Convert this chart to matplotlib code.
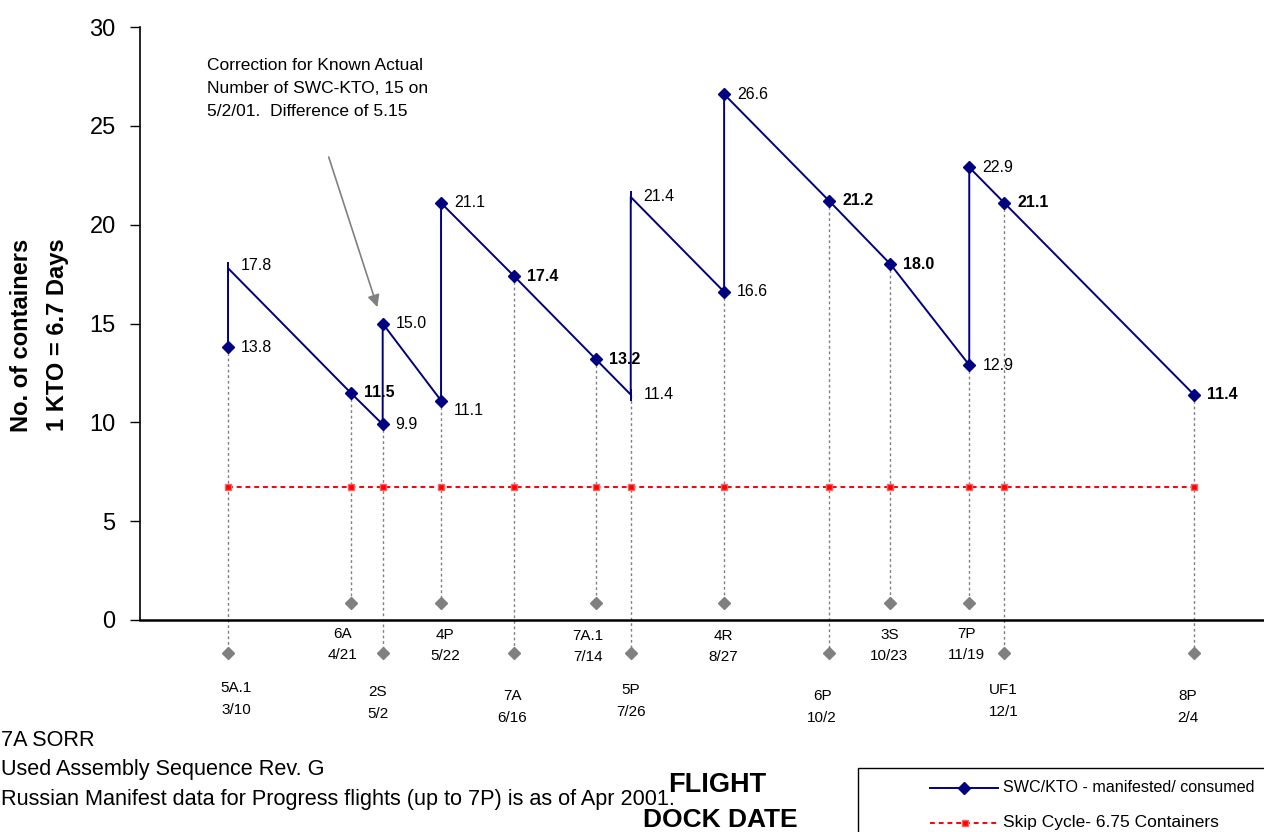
import numpy as np
import pandas as pd
import matplotlib
matplotlib.use("Agg")
import matplotlib.pyplot as plt
import matplotlib.dates as mdates
from matplotlib.lines import Line2D
from matplotlib.patches import Rectangle

plt.rcParams['font.family'] = ['Liberation Sans', 'DejaVu Sans']

# ---- data ---------------------------------------------------------------
flights = ["5A.1", "6A", "2S", "4P", "7A", "7A.1", "5P", "4R", "6P", "3S", "7P", "UF1", "8P"]
dock_dates = ["2001-03-10", "2001-04-21", "2001-05-02", "2001-05-22", "2001-06-16",
              "2001-07-14", "2001-07-26", "2001-08-27", "2001-10-02", "2001-10-23",
              "2001-11-19", "2001-12-01", "2002-02-04"]
dock_labels = ["3/10", "4/21", "5/2", "5/22", "6/16", "7/14", "7/26", "8/27",
               "10/2", "10/23", "11/19", "12/1", "2/4"]
label_tier = ["low", "high", "low", "high", "low", "high", "low", "high",
              "low", "high", "high", "low", "low"]

swc_dates = ["2001-03-10", "2001-03-10", "2001-04-21", "2001-05-02", "2001-05-02",
             "2001-05-22", "2001-05-22", "2001-06-16", "2001-07-14", "2001-07-26",
             "2001-07-26", "2001-08-27", "2001-08-27", "2001-10-02", "2001-10-23",
             "2001-11-19", "2001-11-19", "2001-12-01", "2002-02-04"]
swc_values = [13.8, 17.8, 11.5, 9.9, 15.0, 11.1, 21.1, 17.4, 13.2, 11.4,
              21.4, 16.6, 26.6, 21.2, 18.0, 12.9, 22.9, 21.1, 11.4]
swc_has_marker = [True, False, True, True, True, True, True, True, True, False,
                  False, True, True, True, True, True, True, True, True]
swc_bold_label = [False, False, True, False, False, False, False, True, True, False,
                  False, False, False, True, True, False, False, True, True]

skip_cycle = 6.75

# ---- layout -------------------------------------------------------------
W, H = 1264, 832
tier_y = {"high": 0.85, "low": -1.65}              # gray flight markers (data units)
tier_text_px = {"high": 24.5, "low": 83}           # label centre below axis (px)
label_dx_px = [8, -8, -5, 4, -2, -8, 0, -1, -7, -1, -3, -1, -6]
label_dy_px = [-4, 0, 0, 1, 4, 2, -2, 2, 4, 1, 0, -2, 4]
value_dy_px = [0] * len(swc_values)
value_dy_px[5] = -10
value_dy_px[1] = 3

navy = "#000080"
gray = "#808080"

fig = plt.figure(figsize=(W / 100, H / 100), dpi=100)
ax = fig.add_axes([140 / W, 212 / H, 1 - 140 / W, 593 / H])

flight_x = mdates.date2num(pd.to_datetime(dock_dates))
swc_x = mdates.date2num(pd.to_datetime(swc_dates))
swc_v = np.array(swc_values)
mask = np.array(swc_has_marker)

base = flight_x[0]
ax.set_xlim(base - 30.16, base + 355.0)
ax.set_ylim(0, 30)

# vertical drop lines from the pre-resupply level to each flight marker
for fx, tier in zip(flight_x, label_tier):
    top = swc_v[np.isclose(swc_x, fx)].min()
    ax.plot([fx, fx], [top, tier_y[tier]], color=gray, lw=1.0,
            linestyle=(0, (2, 2)), clip_on=False, zorder=1)
    ax.plot([fx], [tier_y[tier]], marker="D", ms=6, color=gray, clip_on=False, zorder=2)

# skip cycle level
ax.plot(flight_x, [skip_cycle] * len(flight_x), color="red", lw=1.4,
        linestyle=(0, (2.5, 2)), marker="s", ms=4.5, mfc="red", mec="#ff6060",
        zorder=3, label="Skip Cycle- 6.75 Containers")

# SWC/KTO saw-tooth
ax.plot(swc_x, swc_v, color=navy, lw=1.4, zorder=4)
ax.plot(swc_x[mask], swc_v[mask], linestyle="none", marker="D", ms=6.5,
        color=navy, zorder=5)
ax.plot(swc_x[~mask], swc_v[~mask], linestyle="none", marker="|", ms=9,
        mew=1.4, color=navy, zorder=5)

for x, v, bold, dy in zip(swc_x, swc_v, swc_bold_label, value_dy_px):
    ax.annotate(f"{v:.1f}", xy=(x, v), xytext=(13, dy), textcoords="offset pixels",
                ha="left", va="center", fontsize=11.5,
                fontweight="bold" if bold else "normal", zorder=6)

# flight names and dock dates below the axis
for fx, name, dl, tier, dx, dy in zip(flight_x, flights, dock_labels, label_tier,
                                      label_dx_px, label_dy_px):
    ax.annotate(f"{name}\n{dl}", xy=(fx, 0), xytext=(dx, -(tier_text_px[tier] + dy)),
                textcoords="offset pixels", ha="center", va="center",
                fontsize=11, linespacing=1.65, annotation_clip=False)

# correction note with arrow to the 2S value
i2s = 4
ax.annotate("", xy=(swc_x[i2s], swc_v[i2s]), xytext=(-54, 166.5),
            textcoords="offset pixels",
            arrowprops=dict(arrowstyle="-|>", color=gray, lw=1.2,
                            mutation_scale=18, shrinkA=0, shrinkB=12.4))
fig.text(207 / W, 1 - 58 / H,
         "Correction for Known Actual\nNumber of SWC-KTO, 15 on\n5/2/01.  Difference of 5.15",
         ha="left", va="top", fontsize=12.5, linespacing=1.65)

# axes styling
for s in ("top", "right"):
    ax.spines[s].set_visible(False)
ax.spines["left"].set_linewidth(1.2)
ax.spines["bottom"].set_linewidth(1.8)
ax.set_yticks([0, 5, 10, 15, 20, 25, 30])
ax.set_xticks([])
ax.tick_params(axis="y", direction="out", length=7.5, width=1.0, pad=10, labelsize=17)

fig.text(39.5 / W, 1 - 335 / H, "No. of containers\n1 KTO = 6.7 Days", rotation=90,
         ha="center", va="center", multialignment="center", fontsize=17,
         fontweight="bold", linespacing=1.7)

# notes
fig.text(1 / W, 1 - 741 / H, "7A SORR", ha="left", va="center", fontsize=15.6)
fig.text(1 / W, 1 - 770 / H, "Used Assembly Sequence Rev. G", ha="left", va="center", fontsize=15.6)
fig.text(1 / W, 1 - 800 / H,
         "Russian Manifest data for Progress flights (up to 7P) is as of Apr 2001.",
         ha="left", va="center", fontsize=15.6)

fig.text(717 / W, 1 - 785 / H, "FLIGHT", ha="center", va="center", fontsize=19.5, fontweight="bold")
fig.text(720 / W, 1 - 820 / H, "DOCK DATE", ha="center", va="center", fontsize=19, fontweight="bold")

# legend box
fig.add_artist(Rectangle((858 / W, -0.1), 1.0, (832 - 768) / H + 0.1,
                         transform=fig.transFigure, fill=False, ec="black", lw=1.0,
                         clip_on=False))
y1 = 1 - 788 / H
y2 = 1 - 823 / H
fig.add_artist(Line2D([930 / W, 998 / W], [y1, y1], transform=fig.transFigure,
                      color=navy, lw=1.4))
fig.add_artist(Line2D([964 / W], [y1], transform=fig.transFigure, color=navy,
                      marker="D", ms=6.5))
fig.add_artist(Line2D([930 / W, 998 / W], [y2, y2], transform=fig.transFigure,
                      color="red", lw=1.4, linestyle=(0, (2.5, 2))))
fig.add_artist(Line2D([965 / W], [y2], transform=fig.transFigure, color="red",
                      marker="s", ms=4.5, mec="#ff6060"))
fig.text(1003 / W, y1, "SWC/KTO - manifested/ consumed", ha="left", va="center", fontsize=11.6)
fig.text(1003 / W, y2, "Skip Cycle- 6.75 Containers", ha="left", va="center", fontsize=12.5)

fig.savefig("out.png", dpi=100)
